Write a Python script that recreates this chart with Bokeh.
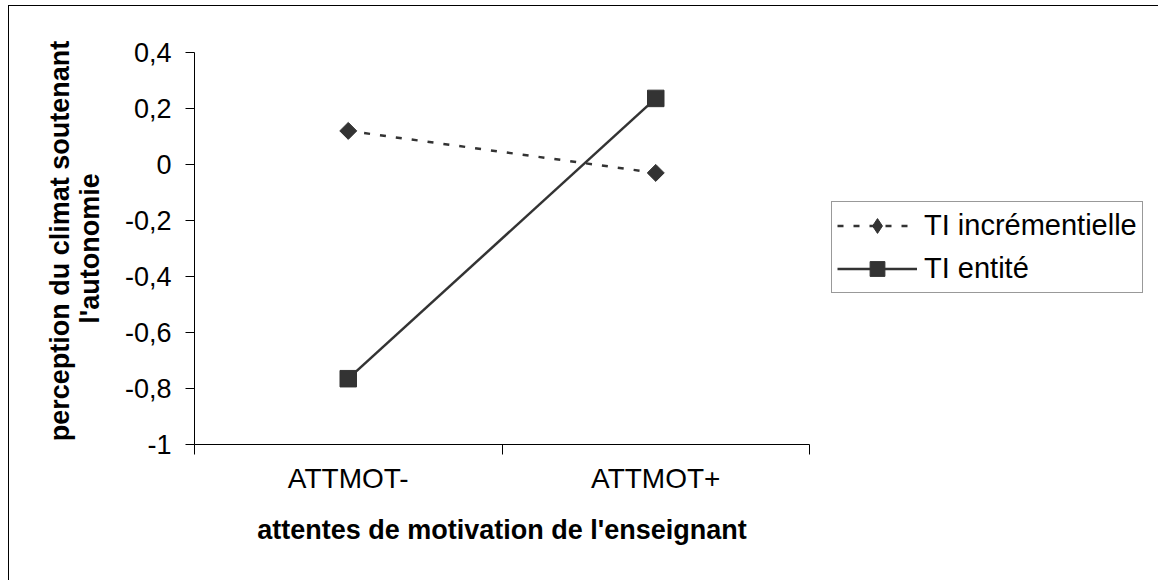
from bokeh.plotting import figure
from bokeh.models import (Range1d, FixedTicker, CustomJSTickFormatter, Legend, LegendItem, ColumnDataSource)
from bokeh.embed import file_html
from bokeh.resources import INLINE
import math

categories = ["ATTMOT-", "ATTMOT+"]
ti_incrementielle = [0.12, -0.03]
ti_entite = [-0.765, 0.236]
y_ticks = [-1.0, -0.8, -0.6, -0.4, -0.2, 0.0, 0.2, 0.4]
x_title = "attentes de motivation de l'enseignant"
y_title = "\u00a0\u00a0perception du climat soutenant\nl'autonomie"
series_names = ["TI incrémentielle", "TI entité"]

xs = [i + 0.5 for i in range(len(categories))]
FONT = "Liberation Sans"
DARK = "#333333"

src1 = ColumnDataSource(dict(x=xs, y=ti_incrementielle))
src2 = ColumnDataSource(dict(x=xs, y=ti_entite))

p = figure(frame_width=615, frame_height=392, output_backend="svg", toolbar_location=None,
           x_range=Range1d(0, len(categories)), y_range=Range1d(-1, 0.4),
           min_border_left=185, min_border_right=0, min_border_top=46, min_border_bottom=137)
p.styles = {"margin-left": "8px", "margin-top": "5px",
            "border-top": "1.5px solid #000", "border-left": "1.5px solid #000"}
p.outline_line_color = None
p.xgrid.visible = False
p.ygrid.visible = False
p.background_fill_color = "white"
p.border_fill_color = "white"

# x axis: boundary ticks as minor ticks, category labels at centres
xa = p.xaxis[0]
xa.ticker = FixedTicker(ticks=xs, minor_ticks=list(range(len(categories) + 1)))
xa.major_label_overrides = {x: c for x, c in zip(xs, categories)}
xa.major_tick_out = 0
xa.major_tick_in = 0
xa.minor_tick_out = 10
xa.minor_tick_in = 0
xa.axis_line_color = "#000000"
xa.minor_tick_line_color = "#000000"
xa.major_label_text_font = FONT
xa.major_label_text_font_size = "28px"
xa.major_label_text_color = "#000000"
xa.major_label_standoff = 8
xa.axis_label = x_title
xa.axis_label_text_font = FONT
xa.axis_label_text_font_style = "bold"
xa.axis_label_text_font_size = "27px"
xa.axis_label_text_color = "#000000"
xa.axis_label_standoff = 18

ya = p.yaxis[0]
ya.ticker = FixedTicker(ticks=y_ticks)
ya.formatter = CustomJSTickFormatter(code="return (Math.round(tick*10)/10).toString().replace('.', ',');")
ya.major_tick_out = 9
ya.major_tick_in = 0
ya.minor_tick_line_color = None
ya.axis_line_color = "#000000"
ya.major_tick_line_color = "#000000"
ya.major_label_text_font = FONT
ya.major_label_text_font_size = "27px"
ya.major_label_text_color = "#000000"
ya.major_label_standoff = 14
ya.axis_label = y_title
ya.axis_label_text_font = FONT
ya.axis_label_text_font_style = "bold"
ya.axis_label_text_font_size = "27px"
ya.axis_label_text_line_height = 1.0
ya.axis_label_text_color = "#000000"
ya.axis_label_standoff = 17

# series
l1 = p.line("x", "y", source=src1, line_color=DARK, line_width=2.5, line_dash="6 10")
# diamond used for the legend key (legend glyphs are never rotated); hidden under the plot markers
key1 = p.scatter("x", "y", source=src1, marker="diamond", size=10, fill_color=DARK, line_color=DARK)
m1 = p.scatter("x", "y", source=src1, marker="square", angle=math.pi / 4, size=12,
               fill_color=DARK, line_color=DARK)
l2 = p.line("x", "y", source=src2, line_color=DARK, line_width=2.5)
m2 = p.scatter("x", "y", source=src2, marker="square", size=16.5, fill_color=DARK, line_color=DARK)

legend = Legend(items=[LegendItem(label=series_names[0], renderers=[l1, key1]),
                       LegendItem(label=series_names[1], renderers=[l2, m2])],
                location=(22, 151), margin=0, padding=5, spacing=6,
                glyph_width=80, glyph_height=37, label_standoff=7,
                label_text_font=FONT, label_text_font_size="29px", label_text_color="#000000",
                border_line_color=DARK, border_line_width=1.2, background_fill_alpha=1)
p.add_layout(legend, "right")

open("out.html", "w").write(file_html(p, INLINE))
